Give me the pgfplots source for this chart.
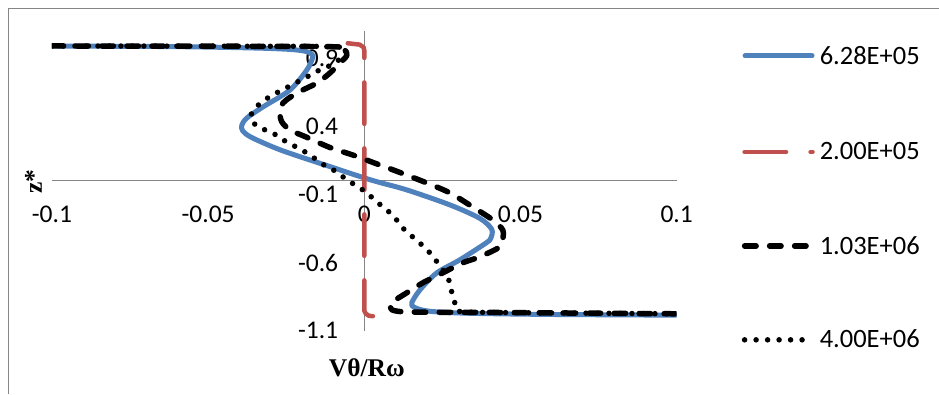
\documentclass[border=0pt]{standalone}
\usepackage{fontspec}
\setmainfont{Carlito}
\newfontfamily\tnr{Liberation Serif}
\usepackage{pgfplots}
\pgfplotsset{compat=1.18}
\definecolor{xlblue}{RGB}{79,129,189}
\definecolor{xlred}{RGB}{192,80,77}
\definecolor{xlgray}{RGB}{134,134,134}
\tikzset{
  sblue/.style={xlblue, line width=5pt, line cap=round, line join=round, solid},
  sred/.style={xlred, line width=4.5pt, line cap=round, line join=round, dash pattern=on 41.5pt off 24.5pt},
  sdash/.style={black, line width=5.5pt, line cap=round, line join=round, dash pattern=on 11.5pt off 13.5pt},
  sdot/.style={black, line width=5.5pt, line cap=round, line join=round, dash pattern=on 0pt off 11.5pt},
}
\begin{document}
\begin{tikzpicture}[x=1pt,y=1pt]
\fill[white] (0,0) rectangle (939,394);
\draw[xlgray, line width=1pt] (8.5,0) -- (8.5,385) -- (939,385);
\begin{axis}[
  at={(52pt,63pt)}, anchor=south west,
  scale only axis, width=625pt, height=300pt,
  xmin=-0.1, xmax=0.1, ymin=-1.1, ymax=1.1,
  axis x line=middle, axis y line=middle,
  hide obscured x ticks=false, hide obscured y ticks=false,
  axis line style={-, xlgray, line width=1pt},
  xtick={-0.1,-0.05,0,0.05,0.1}, xticklabels={-0.1,-0.05,0,0.05,0.1},
  ytick={-1.1,-0.6,-0.1,0.4,0.9}, yticklabels={-1.1,-0.6,-0.1,0.4,0.9},
  major tick length=0pt,
  tick label style={font=\fontsize{25.5}{30}\selectfont, inner sep=0pt},
  xticklabel style={anchor=base, yshift=-42pt},
  yticklabel style={anchor=east, xshift=-26pt},
  every axis plot/.append style={smooth, tension=0.5},
]
\addplot[sblue] coordinates {
(-0.1,0.990) (-0.06,0.985) (-0.035,0.975) (-0.024,0.965) (-0.019,0.952)
(-0.0168,0.93) (-0.0166,0.90) (-0.0184,0.814) (-0.0238,0.667) (-0.0325,0.542)
(-0.0376,0.462) (-0.0392,0.410) (-0.0390,0.37) (-0.0362,0.320) (-0.0266,0.225)
(-0.011,0.105) (0,0.022) (0.005,-0.012) (0.0136,-0.066) (0.0274,-0.176)
(0.037,-0.275) (0.0408,-0.355) (0.0405,-0.42) (0.039,-0.455) (0.0306,-0.579)
(0.0232,-0.675) (0.0178,-0.80) (0.0152,-0.894) (0.0158,-0.925) (0.019,-0.950)
(0.024,-0.962) (0.035,-0.972) (0.06,-0.980) (0.1,-0.985)};
\addplot[sred, dash phase=14pt, sharp plot] coordinates {
(-0.0053,1.01) (-0.0015,1.00) (-0.0002,0.98) (0,0.955)
(0,-0.953) (0.0005,-0.975) (0.0015,-0.99) (0.005,-0.997)};
\addplot[sdash] coordinates {
(-0.1,0.990) (-0.04,0.988) (-0.0078,0.983) (-0.0062,0.960) (-0.0056,0.920)
(-0.0078,0.865) (-0.011,0.792) (-0.0152,0.718) (-0.0216,0.645) (-0.026,0.572)
(-0.027,0.499) (-0.0264,0.433) (-0.0238,0.374) (-0.0184,0.320) (-0.011,0.245)
(-0.0037,0.190) (0.004,0.125) (0.0114,0.062) (0.020,-0.015) (0.0274,-0.088)
(0.0347,-0.191) (0.0411,-0.286) (0.0443,-0.359) (0.0443,-0.43) (0.0434,-0.484)
(0.037,-0.557) (0.0315,-0.601) (0.0251,-0.675) (0.0187,-0.748) (0.0136,-0.821)
(0.0091,-0.887) (0.0082,-0.924) (0.0123,-0.960) (0.04,-0.965) (0.1,-0.975)};
\addplot[sdot] coordinates {
(-0.1,0.990) (-0.04,0.988) (-0.0085,0.983) (-0.006,0.935) (-0.010,0.858)
(-0.0149,0.807) (-0.019,0.755) (-0.0238,0.697) (-0.0293,0.631) (-0.0328,0.579)
(-0.0357,0.513) (-0.0363,0.455) (-0.034,0.396) (-0.0293,0.352) (-0.026,0.301)
(-0.019,0.213) (-0.0152,0.154) (-0.012,0.103) (-0.0088,0.066) (-0.0056,0.007)
(-0.0024,-0.037) (0.0008,-0.088) (0.004,-0.154) (0.0072,-0.213) (0.0098,-0.271)
(0.0123,-0.345) (0.0155,-0.411) (0.0184,-0.469) (0.021,-0.528) (0.0235,-0.601)
(0.0258,-0.675) (0.0274,-0.748) (0.0283,-0.850) (0.0296,-0.924) (0.0312,-0.960)
(0.05,-0.967) (0.1,-0.975)};
\end{axis}
% axis titles
\node[font=\tnr\bfseries\fontsize{25.5}{30}\selectfont, anchor=base, inner sep=0pt] at (367,17) {Vθ/Rω};
\node[font=\tnr\bfseries\fontsize{25.5}{30}\selectfont, anchor=base, rotate=90, inner sep=0pt] at (42,212) {z*};
% legend
\draw[sblue] (745.5,338) -- (812.5,338);
\node[anchor=base west, inner sep=0pt, font=\fontsize{26.5}{30}\selectfont] at (820,329) {6.28E+05};
\draw[sred] (745,242) -- (813,242);
\node[anchor=base west, inner sep=0pt, font=\fontsize{26.5}{30}\selectfont] at (820,234) {2.00E+05};
\draw[sdash] (745,148) -- (807,148);
\node[anchor=base west, inner sep=0pt, font=\fontsize{26.5}{30}\selectfont] at (820,139) {1.03E+06};
\draw[sdot] (745,54) -- (809,54);
\node[anchor=base west, inner sep=0pt, font=\fontsize{26.5}{30}\selectfont] at (820,46) {4.00E+06};
\end{tikzpicture}
\end{document}
